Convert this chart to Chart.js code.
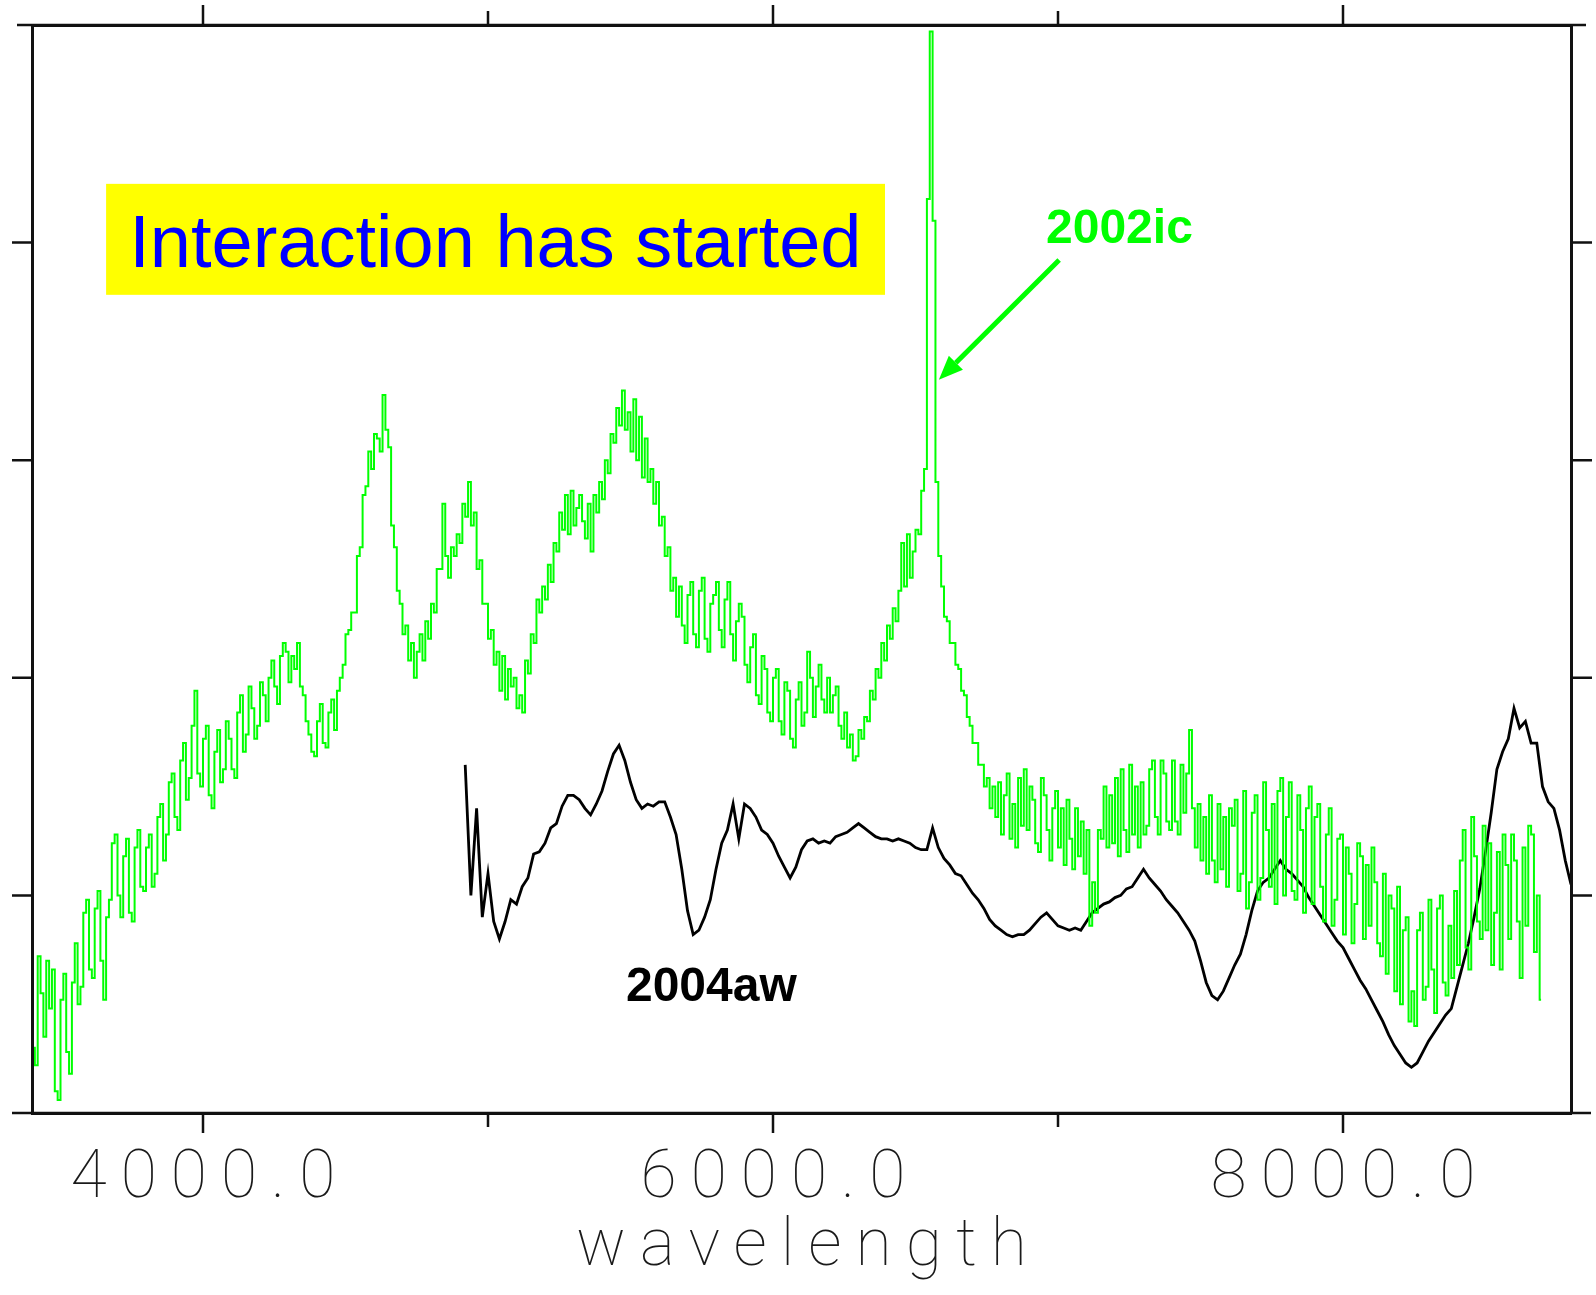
<!DOCTYPE html>
<html>
<head>
<meta charset="utf-8">
<script src="https://cdn.jsdelivr.net/npm/chart.js@4/dist/chart.umd.min.js"></script>
<style>
  html, body { margin: 0; padding: 0; background: #ffffff; }
  canvas { display: block; }
</style>
</head>
<body>
<canvas id="spec" width="1596" height="1295"></canvas>
<script>
// Wavelength sampling of the two spectra (Angstrom): first bin and bin width
const GREEN_START = 3395, GREEN_STEP = 10;
const BLACK_START = 4920, BLACK_STEP = 20;

// SN 2002ic relative flux, one value per 10 A bin starting at 3395 A (one row = 100 A)
const flux2002ic = [
  0.62, 0.30, 0.22, 0.72, 0.55, 0.35, 0.70, 0.48, 0.66, 0.10,
  0.06, 0.52, 0.64, 0.28, 0.18, 0.60, 0.78, 0.50, 0.58, 0.92,
  0.98, 0.66, 0.62, 0.94, 1.02, 0.70, 0.52, 0.90, 0.98, 1.24,
  1.28, 1.00, 0.90, 1.18, 1.26, 0.92, 0.88, 1.22, 1.30, 1.04,
  1.02, 1.22, 1.28, 1.04, 1.10, 1.36, 1.42, 1.16, 1.28, 1.52,
  1.56, 1.36, 1.30, 1.62, 1.70, 1.44, 1.54, 1.78, 1.94, 1.56,
  1.50, 1.72, 1.78, 1.46, 1.40, 1.66, 1.76, 1.52, 1.58, 1.80,
  1.72, 1.58, 1.54, 1.84, 1.92, 1.66, 1.74, 1.96, 1.86, 1.72,
  1.78, 1.98, 1.92, 1.80, 2.00, 2.08, 1.96, 1.88, 2.10, 2.16,
  2.12, 1.98, 2.10, 2.04, 2.16, 1.96, 1.92, 1.80, 1.74, 1.66,
  1.64, 1.80, 1.88, 1.70, 1.68, 1.84, 1.90, 1.76, 1.94, 2.00,
  2.06, 2.20, 2.22, 2.30, 2.30, 2.56, 2.60, 2.84, 2.88, 3.04,
  2.96, 3.12, 3.10, 3.04, 3.30, 3.14, 3.06, 2.70, 2.60, 2.40,
  2.34, 2.20, 2.24, 2.08, 2.16, 2.00, 2.12, 2.20, 2.08, 2.26,
  2.18, 2.34, 2.30, 2.50, 2.50, 2.80, 2.56, 2.46, 2.60, 2.56,
  2.66, 2.62, 2.80, 2.74, 2.90, 2.70, 2.76, 2.50, 2.54, 2.34,
  2.34, 2.18, 2.22, 2.06, 2.12, 1.94, 2.10, 1.90, 2.04, 1.96,
  2.00, 1.86, 1.92, 1.84, 2.08, 2.02, 2.20, 2.16, 2.36, 2.30,
  2.42, 2.36, 2.52, 2.44, 2.62, 2.58, 2.76, 2.68, 2.84, 2.66,
  2.86, 2.70, 2.78, 2.84, 2.72, 2.64, 2.80, 2.58, 2.84, 2.76,
  2.90, 2.82, 3.00, 2.94, 3.12, 3.08, 3.24, 3.16, 3.32, 3.14,
  3.22, 3.04, 3.28, 3.00, 3.20, 2.92, 3.10, 2.90, 2.96, 2.80,
  2.90, 2.70, 2.74, 2.56, 2.60, 2.40, 2.46, 2.28, 2.42, 2.24,
  2.16, 2.38, 2.44, 2.20, 2.14, 2.40, 2.46, 2.18, 2.12, 2.34,
  2.38, 2.44, 2.22, 2.14, 2.36, 2.44, 2.20, 2.08, 2.26, 2.34,
  2.28, 2.06, 1.98, 2.14, 2.20, 1.92, 1.88, 2.10, 2.04, 1.84,
  1.80, 2.00, 2.04, 1.80, 1.74, 1.98, 1.94, 1.72, 1.68, 1.90,
  1.98, 1.78, 1.84, 2.12, 2.00, 1.82, 1.96, 2.06, 1.90, 1.84,
  2.00, 1.84, 1.92, 1.96, 1.78, 1.72, 1.84, 1.68, 1.74, 1.62,
  1.64, 1.76, 1.72, 1.82, 1.80, 1.94, 1.90, 2.04, 2.00, 2.16,
  2.08, 2.24, 2.18, 2.32, 2.26, 2.40, 2.62, 2.42, 2.66, 2.46,
  2.58, 2.68, 2.66, 2.86, 2.96, 4.20, 4.97, 4.10, 2.90, 2.56,
  2.42, 2.28, 2.26, 2.16, 2.16, 2.06, 2.04, 1.94, 1.92, 1.82,
  1.78, 1.70, 1.70, 1.60, 1.60, 1.50, 1.54, 1.40, 1.50, 1.36,
  1.52, 1.28, 1.46, 1.56, 1.26, 1.42, 1.22, 1.54, 1.32, 1.58,
  1.30, 1.50, 1.44, 1.24, 1.20, 1.54, 1.46, 1.30, 1.16, 1.40,
  1.48, 1.22, 1.40, 1.14, 1.44, 1.26, 1.12, 1.40, 1.18, 1.34,
  1.10, 1.30, 0.86, 1.06, 0.92, 1.30, 1.26, 1.50, 1.22, 1.46,
  1.24, 1.54, 1.18, 1.58, 1.30, 1.20, 1.60, 1.28, 1.50, 1.22,
  1.52, 1.28, 1.32, 1.58, 1.62, 1.36, 1.28, 1.62, 1.56, 1.34,
  1.30, 1.62, 1.34, 1.28, 1.60, 1.38, 1.56, 1.76, 1.40, 1.22,
  1.42, 1.16, 1.36, 1.10, 1.46, 1.16, 1.06, 1.42, 1.12, 1.36,
  1.04, 1.40, 1.32, 1.44, 1.02, 1.10, 1.48, 0.94, 1.06, 1.38,
  1.46, 0.98, 1.08, 1.52, 1.30, 1.04, 1.42, 0.96, 1.48, 1.54,
  1.00, 1.36, 1.52, 1.02, 0.98, 1.46, 1.30, 0.92, 1.40, 1.50,
  0.96, 1.36, 1.42, 1.04, 0.88, 1.28, 1.40, 0.86, 0.98, 1.26,
  1.28, 0.82, 1.22, 1.10, 0.78, 0.96, 1.24, 1.18, 0.80, 1.14,
  0.86, 1.22, 1.06, 0.78, 0.72, 1.10, 0.64, 1.00, 0.94, 0.56,
  1.04, 0.50, 0.84, 0.90, 0.42, 0.56, 0.40, 0.84, 0.92, 0.52,
  0.58, 0.98, 0.66, 0.46, 0.94, 1.00, 0.60, 0.54, 0.86, 0.62,
  1.02, 0.68, 1.16, 1.30, 0.76, 0.66, 1.36, 1.18, 0.88, 0.80,
  1.32, 0.84, 1.24, 0.68, 0.92, 1.20, 0.66, 1.28, 1.14, 0.80,
  1.28, 1.16, 0.88, 0.62, 1.22, 0.86, 1.32, 1.28, 0.74, 1.00,
  0.52
];

// SN 2004aw relative flux, one value per 20 A bin starting at 4920 A
const flux2004aw = [
  1.60, 1.00, 1.40, 0.90, 1.10, 0.88, 0.80, 0.88, 0.98, 0.96,
  1.04, 1.08, 1.19, 1.20, 1.24, 1.31, 1.33, 1.41, 1.46, 1.46,
  1.44, 1.40, 1.37, 1.42, 1.48, 1.57, 1.65, 1.69, 1.62, 1.52,
  1.44, 1.40, 1.42, 1.41, 1.43, 1.43, 1.36, 1.28, 1.12, 0.93,
  0.82, 0.84, 0.90, 0.98, 1.12, 1.24, 1.30, 1.42, 1.26, 1.42,
  1.40, 1.36, 1.30, 1.28, 1.24, 1.18, 1.13, 1.08, 1.13, 1.21,
  1.25, 1.26, 1.24, 1.25, 1.24, 1.27, 1.28, 1.29, 1.31, 1.33,
  1.31, 1.29, 1.27, 1.26, 1.26, 1.25, 1.26, 1.25, 1.24, 1.22,
  1.21, 1.21, 1.31, 1.22, 1.17, 1.14, 1.10, 1.09, 1.05, 1.01,
  0.98, 0.94, 0.89, 0.86, 0.84, 0.82, 0.81, 0.82, 0.82, 0.84,
  0.87, 0.90, 0.92, 0.89, 0.86, 0.85, 0.84, 0.85, 0.84, 0.88,
  0.92, 0.94, 0.96, 0.97, 0.99, 1.00, 1.03, 1.04, 1.08, 1.12,
  1.08, 1.05, 1.02, 0.98, 0.95, 0.92, 0.88, 0.84, 0.79, 0.70,
  0.60, 0.54, 0.52, 0.56, 0.62, 0.68, 0.73, 0.82, 0.93, 1.02,
  1.06, 1.08, 1.12, 1.16, 1.12, 1.10, 1.07, 1.04, 0.99, 0.95,
  0.91, 0.87, 0.83, 0.79, 0.76, 0.71, 0.66, 0.61, 0.57, 0.52,
  0.47, 0.42, 0.36, 0.31, 0.27, 0.23, 0.21, 0.23, 0.28, 0.33,
  0.37, 0.41, 0.45, 0.48, 0.58, 0.68, 0.78, 0.90, 1.03, 1.20,
  1.38, 1.58, 1.66, 1.72, 1.86, 1.77, 1.80, 1.70, 1.70, 1.50,
  1.43, 1.40, 1.30, 1.16, 1.05
];

// Axis ticks
const xTickValues = [4000, 5000, 6000, 7000, 8000];
const xTickLabels = ['4000.0', '', '6000.0', '', '8000.0'];
const yTickValues = [1, 2, 3, 4];

// Annotations, placed in data coordinates (wavelength, flux)
const banner = { text: 'Interaction has started', x0: 3660, x1: 6393, y0: 3.76, y1: 4.27, textX: 5026, baseline: 3.89 };
const label2002ic = { text: '2002ic', x: 6958, y: 4.00 };
const arrow2002ic = { x0: 7004, y0: 3.92, x1: 6582, y1: 3.37 };
const label2004aw = { text: '2004aw', x: 5484, y: 0.515 };

const AXIS_FONT = "Roboto, 'Noto Sans', 'DejaVu Sans', sans-serif";
const AXIS_LETTER_SPACING = 14;
const INK = '#111111';

const toPoints = (flux, start, step) => flux.map((f, i) => ({ x: start + i * step, y: f }));

const framePlugin = {
  id: 'frame',
  // Axis labels and title are drawn first (layers with z <= 0) in a wide-spaced
  // typeface; the shift re-centres text whose trailing letter gap counts in its width.
  beforeDraw(chart) {
    const ctx = chart.ctx;
    ctx.save();
    ctx.letterSpacing = AXIS_LETTER_SPACING + 'px';
    ctx.translate(AXIS_LETTER_SPACING / 2, 0);
  },
  beforeDatasetsDraw(chart) {
    chart.ctx.restore();
    chart.ctx.letterSpacing = '0px';
  },
  afterDraw(chart) {
    const { ctx, chartArea: a } = chart;
    const xs = chart.scales.x, ys = chart.scales.y;
    const px = v => xs.getPixelForValue(v);
    const py = v => ys.getPixelForValue(v);
    ctx.save();
    ctx.letterSpacing = '0px';

    // axis lines run a little past the corners, plus outward tick marks
    ctx.strokeStyle = INK;
    ctx.lineWidth = 2.5;
    ctx.beginPath();
    ctx.moveTo(a.left - 15, a.top); ctx.lineTo(a.right + 15, a.top);
    ctx.moveTo(a.left - 20, a.bottom); ctx.lineTo(a.right + 20, a.bottom);
    xTickValues.forEach((v, i) => {
      const x = px(v);
      const len = xTickLabels[i] ? 20 : 14;
      ctx.moveTo(x, a.bottom); ctx.lineTo(x, a.bottom + len);
      ctx.moveTo(x, a.top); ctx.lineTo(x, a.top - len);
    });
    yTickValues.forEach(v => {
      const y = py(v);
      ctx.moveTo(a.left - 20, y); ctx.lineTo(a.left, y);
      ctx.moveTo(a.right, y); ctx.lineTo(a.right + 21, y);
    });
    ctx.stroke();

    // yellow banner
    ctx.fillStyle = '#ffff00';
    const bx0 = px(banner.x0), bx1 = px(banner.x1), by0 = py(banner.y0), by1 = py(banner.y1);
    ctx.fillRect(bx0, by1, bx1 - bx0, by0 - by1);
    ctx.fillStyle = '#0000ff';
    ctx.font = "74px 'Liberation Sans', Arial, sans-serif";
    ctx.textAlign = 'center';
    ctx.textBaseline = 'alphabetic';
    ctx.fillText(banner.text, px(banner.textX), py(banner.baseline));

    // 2002ic label and arrow
    ctx.fillStyle = '#00ff00';
    ctx.font = "bold 48px 'Liberation Sans', Arial, sans-serif";
    ctx.textAlign = 'left';
    ctx.fillText(label2002ic.text, px(label2002ic.x), py(label2002ic.y));

    const ax0 = px(arrow2002ic.x0), ay0 = py(arrow2002ic.y0);
    const ax1 = px(arrow2002ic.x1), ay1 = py(arrow2002ic.y1);
    const ang = Math.atan2(ay1 - ay0, ax1 - ax0);
    const head = 24, half = 10;
    const bxh = ax1 - head * Math.cos(ang), byh = ay1 - head * Math.sin(ang);
    ctx.strokeStyle = '#00ff00';
    ctx.lineWidth = 5;
    ctx.beginPath();
    ctx.moveTo(ax0, ay0); ctx.lineTo(bxh, byh);
    ctx.stroke();
    ctx.beginPath();
    ctx.moveTo(ax1, ay1);
    ctx.lineTo(bxh + half * Math.sin(ang), byh - half * Math.cos(ang));
    ctx.lineTo(bxh - half * Math.sin(ang), byh + half * Math.cos(ang));
    ctx.closePath();
    ctx.fill();

    // 2004aw label
    ctx.fillStyle = '#000000';
    ctx.fillText(label2004aw.text, px(label2004aw.x), py(label2004aw.y));

    ctx.restore();
  }
};

// Frame lines are drawn after the spectra (z = 1)
const hiddenAxis = (position, min, max) => ({
  type: 'linear', position, min, max,
  ticks: { display: false },
  grid: { display: false, drawTicks: false },
  border: { display: true, color: INK, width: 3, z: 1 }
});

new Chart(document.getElementById('spec'), {
  type: 'line',
  data: {
    datasets: [
      {
        label: '2002ic',
        data: toPoints(flux2002ic, GREEN_START, GREEN_STEP),
        borderColor: '#00ff00',
        borderWidth: 2,
        pointRadius: 0,
        stepped: 'middle',
        fill: false
      },
      {
        label: '2004aw',
        data: toPoints(flux2004aw, BLACK_START, BLACK_STEP),
        borderColor: '#000000',
        borderWidth: 2.8,
        pointRadius: 0,
        tension: 0,
        fill: false
      }
    ]
  },
  options: {
    responsive: false,
    animation: false,
    devicePixelRatio: 1,
    events: [],
    layout: { padding: { left: 32, right: 25, top: 25, bottom: 0 } },
    plugins: { legend: { display: false }, tooltip: { enabled: false } },
    scales: {
      x: {
        type: 'linear', position: 'bottom', min: 3400, max: 8800,
        afterBuildTicks: scale => { scale.ticks = xTickValues.map(v => ({ value: v })); },
        ticks: {
          autoSkip: false, maxRotation: 0, padding: 34,
          color: '#1a1a1a',
          font: { family: AXIS_FONT, size: 66, weight: 100, lineHeight: 1 },
          callback: (value, index) => xTickLabels[index]
        },
        grid: { display: false, drawTicks: false },
        border: { display: true, color: INK, width: 3, z: 1 },
        title: {
          display: true, text: 'wavelength', color: '#1a1a1a',
          font: { family: AXIS_FONT, size: 66, weight: 100, lineHeight: 1 },
          padding: { top: -32, bottom: 14 }
        }
      },
      xTop: hiddenAxis('top', 3400, 8800),
      y: hiddenAxis('left', 0, 5),
      yRight: hiddenAxis('right', 0, 5)
    }
  },
  plugins: [framePlugin]
});
</script>
</body>
</html>
